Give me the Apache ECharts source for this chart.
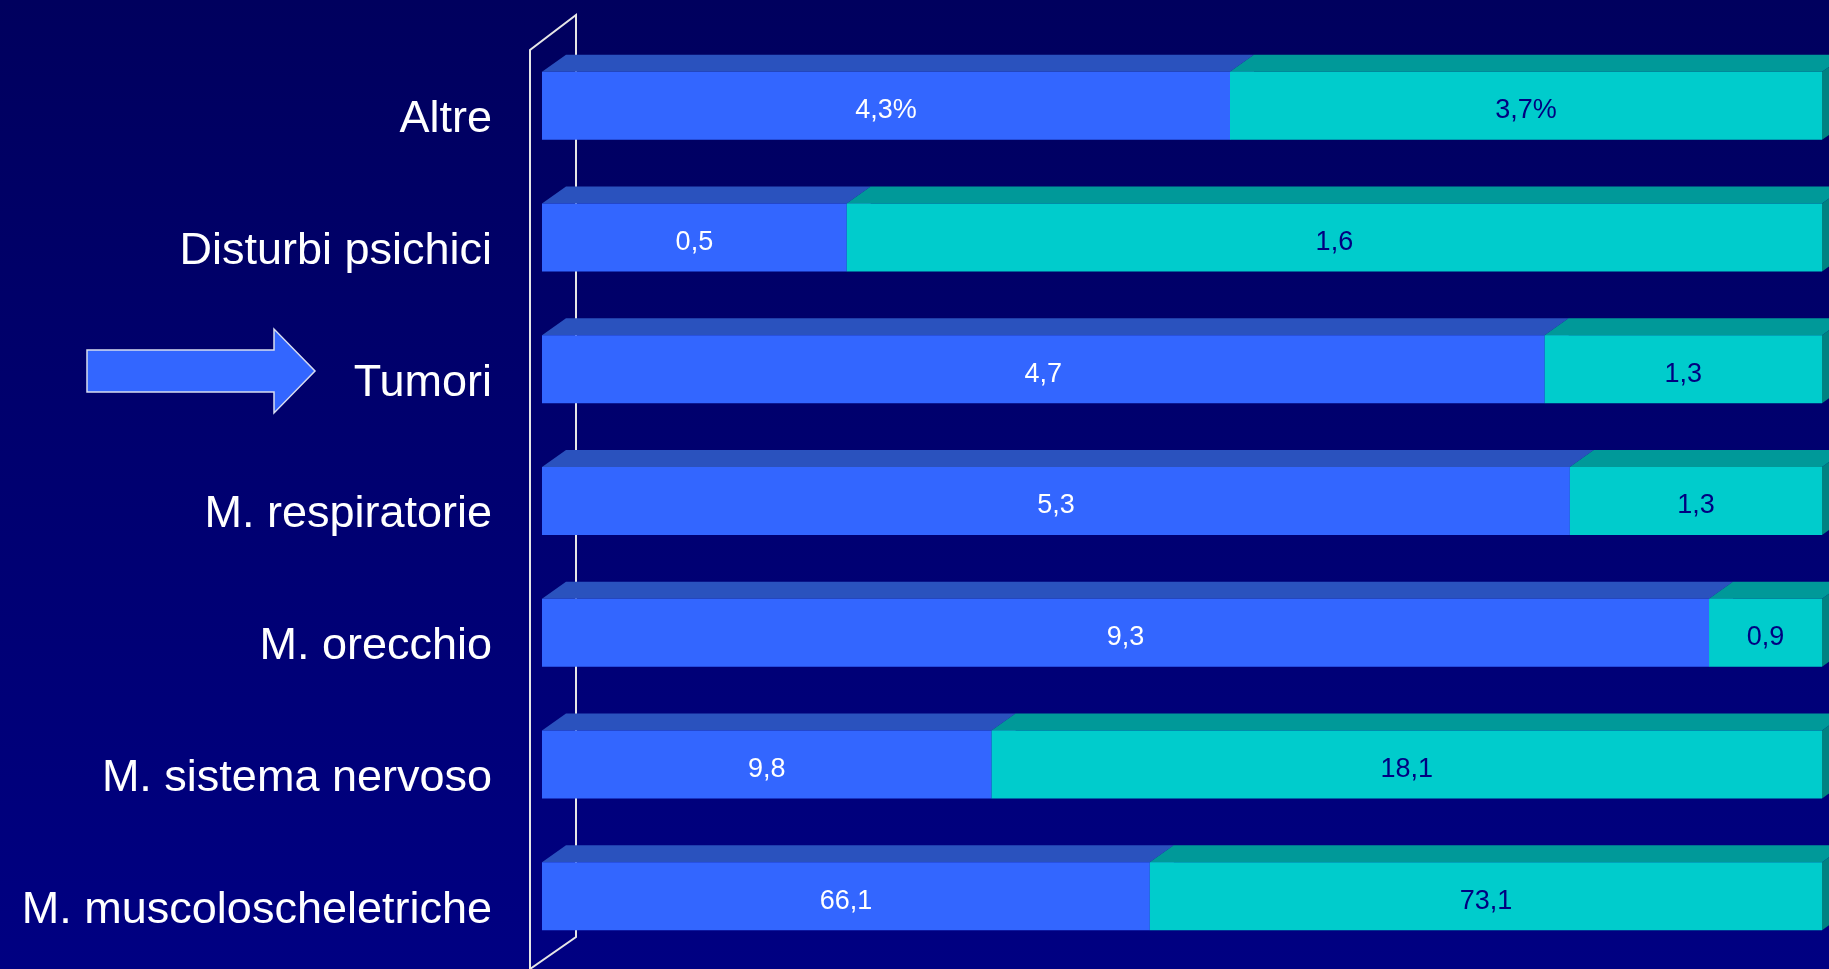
<!DOCTYPE html>
<html>
<head>
<meta charset="utf-8">
<script src="https://cdn.jsdelivr.net/npm/echarts@6/dist/echarts.min.js"></script>
<style>
html,body{margin:0;padding:0;width:1829px;height:969px;overflow:hidden;}
#c{width:1829px;height:969px;}
</style>
</head>
<body>
<div id="c"></div>
<script>
// Categories, top to bottom
const categories = ['Altre', 'Disturbi psichici', 'Tumori', 'M. respiratorie', 'M. orecchio', 'M. sistema nervoso', 'M. muscoloscheletriche'];
// First group (blue) values
const seriesA = [4.3, 0.5, 4.7, 5.3, 9.3, 9.8, 66.1];
// Second group (cyan) values
const seriesB = [3.7, 1.6, 1.3, 1.3, 0.9, 18.1, 73.1];
// Label texts as printed on the bars
const labelsA = ['4,3%', '0,5', '4,7', '5,3', '9,3', '9,8', '66,1'];
const labelsB = ['3,7%', '1,6', '1,3', '1,3', '0,9', '18,1', '73,1'];

const chart = echarts.init(document.getElementById('c'));

const FRONT_H = 68, DX = 24, DY = 17;
const GRID = {left: 542, right: 7, top: 40, bottom: 7};

function buildData(vals, other, labels, first) {
  return vals.map((v, i) => {
    const total = v + other[i];
    const share = v / total * 100;
    const start = first ? 0 : (other[i] / total * 100);
    return [start, start + share, i, labels[i]];
  });
}

function makeRender(colors) {
  return function (params, api) {
    const cat = api.value(2);
    const p0 = api.coord([api.value(0), cat]);
    const p1 = api.coord([api.value(1), cat]);
    const x0 = p0[0], x1 = p1[0];
    const top = p0[1] - FRONT_H / 2;
    return {
      type: 'group',
      children: [
        {type: 'polygon', shape: {points: [[x1, top], [x1 + DX, top - DY], [x1 + DX, top - DY + FRONT_H], [x1, top + FRONT_H]]}, style: {fill: colors.side}},
        {type: 'polygon', shape: {points: [[x0, top], [x0 + DX, top - DY], [x1 + DX, top - DY], [x1, top]]}, style: {fill: colors.top}},
        {type: 'rect', shape: {x: x0, y: top, width: x1 - x0, height: FRONT_H}, style: {fill: colors.front}},
        {type: 'text', style: {x: (x0 + x1) / 2, y: p0[1] + 5, text: api.value(3), fill: colors.text, font: '27px "Liberation Sans", Arial, sans-serif', align: 'center', verticalAlign: 'middle'}}
      ]
    };
  };
}

// Wall (axis plane) and arrow annotation
const wallStyle = {stroke: '#E6E6E6', lineWidth: 2, fill: null};
const graphics = [
  {type: 'polyline', z: 0, zlevel: 0, shape: {points: [[530, 969], [530, 50], [576, 15], [576, 937], [530, 969]]}, style: wallStyle, silent: true},
  {type: 'polygon', z: 100, shape: {points: [[87, 350], [274, 350], [274, 329], [315, 371], [274, 413], [274, 392], [87, 392]]}, style: {fill: '#3366FF', stroke: '#D8DDF0', lineWidth: 1.5}}
];

chart.setOption({
  backgroundColor: {type: 'linear', x: 0, y: 0, x2: 0, y2: 1, colorStops: [{offset: 0, color: '#00005E'}, {offset: 1, color: '#000082'}]},
  animation: false,
  grid: GRID,
  xAxis: {type: 'value', min: 0, max: 100, show: false},
  yAxis: {
    type: 'category', data: categories, inverse: true,
    axisLine: {show: false}, axisTick: {show: false}, splitLine: {show: false},
    axisLabel: {color: '#FFFFFF', fontSize: 45, fontFamily: '"Liberation Sans", Arial, sans-serif', margin: 50, verticalAlign: 'top', lineHeight: 28}
  },
  graphic: graphics,
  series: [
    {type: 'custom', z: 5, renderItem: makeRender({front: '#3366FF', top: '#2A52BE', side: '#2447A8', text: '#FFFFFF'}), data: buildData(seriesA, seriesB, labelsA, true), encode: {x: [0, 1], y: 2}},
    {type: 'custom', z: 6, renderItem: makeRender({front: '#00CCCC', top: '#009999', side: '#008282', text: '#000080'}), data: buildData(seriesB, seriesA, labelsB, false), encode: {x: [0, 1], y: 2}}
  ]
});
</script>
</body>
</html>
